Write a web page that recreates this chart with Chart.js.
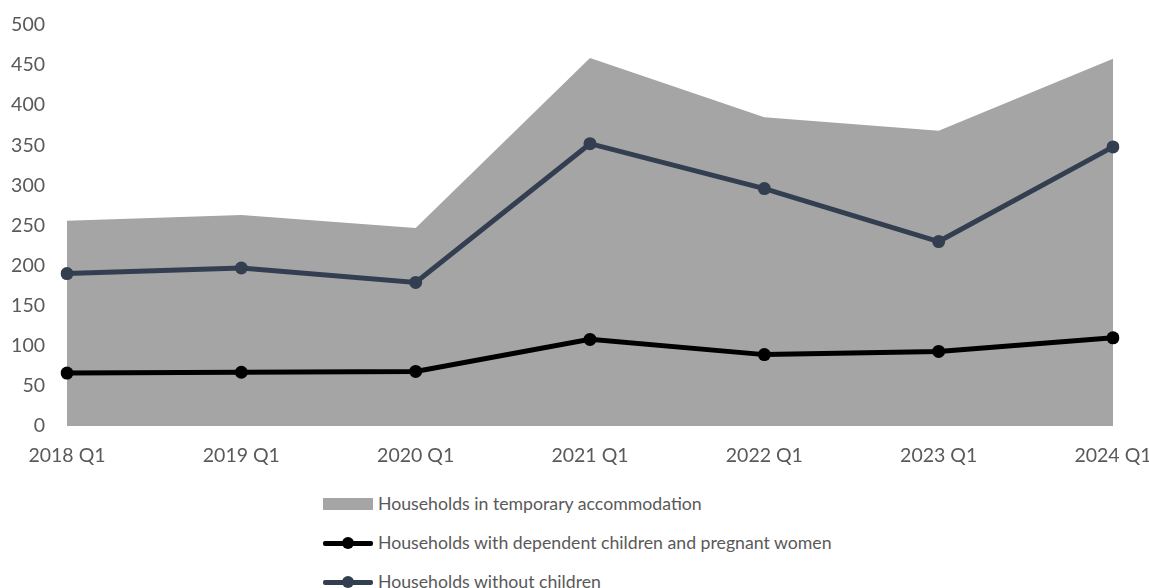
<!DOCTYPE html>
<html>
<head>
<meta charset="utf-8">
<script src="https://cdn.jsdelivr.net/npm/chart.js@4/dist/chart.umd.min.js"></script>
<style>
  html, body { margin: 0; padding: 0; background: #fff; }
  #wrap { position: relative; width: 1149px; height: 588px; overflow: hidden; }
  #chart-box { position: absolute; left: 0; top: 0; width: 1149px; height: 475px; }
  #legend { position: absolute; left: 323px; top: 484px; font-family: Lato, "Open Sans", sans-serif; font-size: 17.7px; color: #595959; }
  .item { display: flex; align-items: center; height: 39px; white-space: nowrap; }
  .swatch { position: relative; width: 50px; height: 14px; margin-right: 5px; flex: none; }
  .swatch .box { position: absolute; left: 0; top: 1px; width: 50px; height: 12px; }
  .swatch .line { position: absolute; left: 0; top: 5px; width: 50px; height: 5px; border-radius: 2px; }
  .swatch .dot { position: absolute; left: 19px; top: 1px; width: 12px; height: 12px; border-radius: 50%; }
</style>
</head>
<body>
<div id="wrap">
  <div id="chart-box"><canvas id="chart"></canvas></div>
  <div id="legend"></div>
</div>
<script>
const quarters = ['2018 Q1', '2019 Q1', '2020 Q1', '2021 Q1', '2022 Q1', '2023 Q1', '2024 Q1'];
const totalHouseholds = [256, 263, 247, 459, 385, 368, 458];
const withChildren = [66, 67, 68, 108, 89, 93, 110];
const withoutChildren = [190, 197, 179, 352, 296, 230, 348];

const areaGrey = '#A5A5A5';
const navy = '#333F50';
const textGrey = '#595959';
const fontFamily = 'Lato, "Open Sans", sans-serif';

const ctx = document.getElementById('chart').getContext('2d');

const chart = new Chart(ctx, {
  type: 'line',
  data: {
    labels: quarters,
    datasets: [
      {
        label: 'Households in temporary accommodation',
        data: totalHouseholds,
        fill: 'origin',
        backgroundColor: areaGrey,
        borderWidth: 0,
        pointRadius: 0,
        order: 3,
        legendKind: 'area'
      },
      {
        label: 'Households with dependent children and pregnant women',
        data: withChildren,
        borderColor: '#000000',
        backgroundColor: '#000000',
        borderWidth: 5,
        pointRadius: 6.5,
        pointBorderWidth: 0,
        tension: 0,
        order: 1,
        legendKind: 'line'
      },
      {
        label: 'Households without children',
        data: withoutChildren,
        borderColor: navy,
        backgroundColor: navy,
        borderWidth: 5,
        pointRadius: 6.5,
        pointBorderWidth: 0,
        tension: 0,
        order: 2,
        legendKind: 'line'
      }
    ]
  },
  options: {
    responsive: true,
    maintainAspectRatio: false,
    animation: false,
    layout: { padding: { top: 25, right: 36, bottom: 0, left: 0 } },
    plugins: {
      legend: { display: false },
      tooltip: { enabled: false }
    },
    scales: {
      x: {
        offset: false,
        grid: { display: false, drawTicks: false },
        border: { display: false },
        ticks: {
          color: textGrey,
          font: { family: fontFamily, size: 19.5 },
          padding: 18,
          maxRotation: 0
        },
        afterFit: scale => {
          scale.height = 49;
          // let the layout padding decide the plot edges, not the label overhang
          scale.paddingLeft = 0;
          scale.paddingRight = 0;
        }
      },
      y: {
        min: 0,
        max: 500,
        grid: { display: false, drawTicks: false },
        border: { display: false },
        ticks: {
          stepSize: 50,
          color: textGrey,
          font: { family: fontFamily, size: 19.5 },
          padding: 22
        },
        afterFit: scale => {
          scale.width = 67;
          scale.paddingTop = 0;
          scale.paddingBottom = 0;
        }
      }
    }
  }
});

// Build the stacked legend under the plot from the chart's datasets
const legendEl = document.getElementById('legend');
chart.data.datasets.forEach(ds => {
  const item = document.createElement('div');
  item.className = 'item';
  const swatch = document.createElement('span');
  swatch.className = 'swatch';
  if (ds.legendKind === 'area') {
    const box = document.createElement('span');
    box.className = 'box';
    box.style.background = ds.backgroundColor;
    swatch.appendChild(box);
  } else {
    const line = document.createElement('span');
    line.className = 'line';
    line.style.background = ds.borderColor;
    const dot = document.createElement('span');
    dot.className = 'dot';
    dot.style.background = ds.borderColor;
    swatch.appendChild(line);
    swatch.appendChild(dot);
  }
  const text = document.createElement('span');
  text.textContent = ds.label;
  item.appendChild(swatch);
  item.appendChild(text);
  legendEl.appendChild(item);
});
</script>
</body>
</html>
